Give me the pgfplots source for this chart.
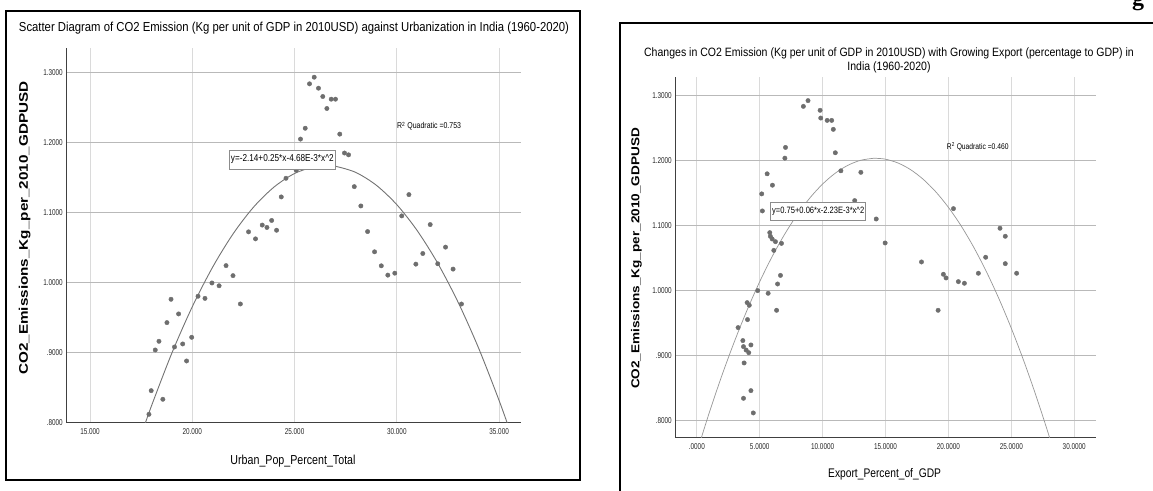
\documentclass[border=0pt]{standalone}
\usepackage{pgfplots}
\pgfplotsset{compat=1.18}
\usepackage{fontspec}
\setmainfont{Liberation Sans}
\newfontfamily\nar[FakeStretch=0.82]{Liberation Sans}
\newfontfamily\narT[FakeStretch=0.87]{Liberation Sans}
\newfontfamily\tnar[FakeStretch=0.75]{Liberation Sans}
\newfontfamily\serifb{Liberation Serif}
\definecolor{ptgray}{RGB}{110,110,110}
\definecolor{crvA}{RGB}{115,115,115}
\definecolor{crvB}{RGB}{150,150,150}
\definecolor{hgrid}{RGB}{185,185,185}
\definecolor{vgrid}{RGB}{218,218,218}
\pgfplotsset{
  myax/.style={
    scale only axis, anchor=south west,
    axis x line*=bottom, axis y line*=left,
    axis line style={black!75, line width=1pt},
    xmajorgrids, ymajorgrids,
    major x grid style={vgrid, line width=0.8pt},
    major y grid style={hgrid, line width=0.8pt},
    major tick length=0pt,
    tick label style={font=\tnar\fontsize{8.5}{10}\selectfont, text=black!85},
    xticklabel style={yshift=-3pt},
    clip=true,
  },
  pts/.style={only marks, mark=*, mark size=2.2pt, mark options={fill=ptgray, draw=ptgray}},
}
\begin{document}
\begin{tikzpicture}[x=1pt,y=1pt]
\useasboundingbox (0,0) rectangle (1153,490);
% header fragment
\node[anchor=base, inner sep=0pt] at (1138,484) {\serifb\bfseries\fontsize{24}{28}\selectfont g};
% frames
\draw[line width=2pt] (5.5,479) rectangle (580,10);
\draw[line width=2pt] (1170,467.3) -- (619.5,467.3) -- (619.5,-20);

% ---------- left chart ----------
\begin{axis}[myax, at={(66.3pt,67.7pt)}, width=455.1pt, height=374.3pt,
  xmin=13.84, xmax=36.09, ymin=0.8, ymax=1.3346,
  xtick={15,20,25,30,35}, xticklabels={15.000,20.000,25.000,30.000,35.000},
  ytick={0.8,0.9,1.0,1.1,1.2,1.3}, yticklabels={.8000,.9000,1.0000,1.1000,1.2000,1.3000}]
\addplot[crvA, line width=0.9pt, smooth, no marks] coordinates {
(17.5,0.7818) (18,0.8231) (19,0.8988) (20,0.9651) (21,1.0219) (22,1.0694) (23,1.1075)
(24,1.1361) (25,1.1554) (26,1.1653) (26.55,1.1667) (27,1.1657) (28,1.1568) (29,1.1385)
(30,1.1108) (31,1.0736) (32,1.0271) (33,0.9712) (34,0.9058) (35,0.8311) (35.5,0.7902)};
\addplot[pts] table {
x y
17.88 0.8114
17.99 0.8452
18.19 0.9033
18.37 0.9157
18.56 0.8329
18.76 0.9424
18.96 0.9757
19.13 0.9076
19.33 0.9548
19.53 0.9119
19.72 0.8876
19.97 0.9214
20.28 0.9800
20.62 0.9770
20.96 0.9990
21.31 0.9950
21.65 1.0238
21.99 1.0095
22.35 0.9690
22.75 1.0720
23.09 1.0620
23.42 1.0817
23.65 1.0783
23.88 1.0883
24.12 1.0743
24.35 1.1219
24.58 1.1485
25.08 1.1600
25.29 1.2045
25.52 1.2200
25.73 1.2834
25.96 1.2929
26.17 1.2772
26.38 1.2653
26.58 1.2482
26.79 1.2615
27.00 1.2615
27.21 1.2116
27.44 1.1846
27.64 1.1820
27.92 1.1366
28.24 1.1090
28.57 1.0724
28.91 1.0435
29.24 1.0235
29.56 1.0102
29.90 1.0130
30.24 1.0948
30.59 1.1252
30.93 1.0259
31.27 1.0411
31.63 1.0824
32.00 1.0264
32.38 1.0502
32.75 1.0188
33.16 0.9689
};
\end{axis}

% ---------- right chart ----------
\begin{axis}[myax, at={(675.3pt,52.7pt)}, width=420.3pt, height=360pt,
  xmin=-1.71, xmax=31.7, ymin=0.7738, ymax=1.3277,
  xtick={0,5,10,15,20,25,30}, xticklabels={.0000,5.0000,10.0000,15.0000,20.0000,25.0000,30.0000},
  ytick={0.8,0.9,1.0,1.1,1.2,1.3}, yticklabels={.8000,.9000,1.0000,1.1000,1.2000,1.3000}]
\addplot[crvB, line width=0.7pt, smooth, no marks] coordinates {
(0,0.7508) (1,0.8123) (2,0.8693) (3,0.9217) (4,0.9697) (5,1.0133) (6,1.0523) (7,1.0868)
(8,1.1169) (9,1.1424) (10,1.1635) (11,1.1801) (12,1.1922) (13,1.1999) (14,1.2030) (14.2,1.2031)
(15,1.2017) (16,1.1958) (17,1.1855) (18,1.1707) (19,1.1514) (20,1.1276) (21,1.0994) (22,1.0666)
(23,1.0294) (24,0.9877) (25,0.9415) (26,0.8908) (27,0.8356) (28,0.7759) (29,0.7118)};
\addplot[pts] table {
x y
4.49 0.8113
3.71 0.8338
4.30 0.8456
3.76 0.8882
4.13 0.9040
3.92 0.9080
3.71 0.9133
4.30 0.9159
3.66 0.9226
3.28 0.9426
4.03 0.9549
4.17 0.9769
4.00 0.9810
4.84 0.9995
5.67 0.9954
6.42 1.0097
6.34 0.9692
6.65 1.0229
6.12 1.0614
6.73 1.0722
6.25 1.0748
5.99 1.0789
5.85 1.0830
5.80 1.0887
5.21 1.1221
5.16 1.1483
6.01 1.1617
5.59 1.1792
7.00 1.2033
7.05 1.2198
8.47 1.2830
8.84 1.2918
9.80 1.2769
9.85 1.2650
10.36 1.2614
10.72 1.2614
10.85 1.2476
11.01 1.2116
11.45 1.1838
12.55 1.1380
13.04 1.1815
14.26 1.1097
14.97 1.0728
17.86 1.0436
19.18 0.9692
19.60 1.0246
19.81 1.0190
20.40 1.1256
20.79 1.0133
21.27 1.0108
22.38 1.0262
22.96 1.0508
24.10 1.0954
24.52 1.0831
24.52 1.0410
25.42 1.0262
};
\end{axis}

% ---------- texts ----------
\node at (294,462.3) {\narT\fontsize{13}{15}\selectfont Scatter Diagram of CO2 Emission (Kg per unit of GDP in 2010USD) against Urbanization in India (1960-2020)};
\node at (889,436.7) {\narT\fontsize{12.1}{14}\selectfont Changes in CO2 Emission (Kg per unit of GDP in 2010USD) with Growing Export (percentage to GDP) in};
\node at (889,422.3) {\narT\fontsize{12.1}{14}\selectfont India (1960-2020)};

\node[rotate=90] at (24.6,262) {\scalebox{1.22}[1]{\bfseries\fontsize{12.5}{14}\selectfont CO2\_Emissions\_Kg\_per\_2010\_GDPUSD}};
\node[rotate=90] at (636.5,231.5) {\scalebox{1.18}[1]{\bfseries\fontsize{11.5}{13}\selectfont CO2\_Emissions\_Kg\_per\_2010\_GDPUSD}};

\node at (293,29) {\nar\fontsize{13}{15}\selectfont Urban\_Pop\_Percent\_Total};
\node at (884.6,15.7) {\nar\fontsize{12.5}{14}\selectfont Export\_Percent\_of\_GDP};

\node[anchor=west, inner sep=0pt] at (397,363.7) {\nar\fontsize{8.5}{10}\selectfont R\textsuperscript{2} Quadratic =0.753};
\node[anchor=west, inner sep=0pt] at (946.7,343.3) {\nar\fontsize{8.2}{10}\selectfont R\textsuperscript{2} Quadratic =0.460};

\node[draw=black!45, fill=white, line width=0.6pt, minimum width=106pt, minimum height=19pt, inner sep=1pt] at (282.3,330.5)
  {\nar\fontsize{10}{12}\selectfont y=-2.14+0.25*x-4.68E-3*x\textasciicircum 2};
\node[draw=black!45, fill=white, line width=0.6pt, minimum width=95pt, minimum height=17.7pt, inner sep=1pt] at (818.2,278.8)
  {\nar\fontsize{9.2}{11}\selectfont y=0.75+0.06*x-2.23E-3*x\textasciicircum 2};
\end{tikzpicture}
\end{document}
